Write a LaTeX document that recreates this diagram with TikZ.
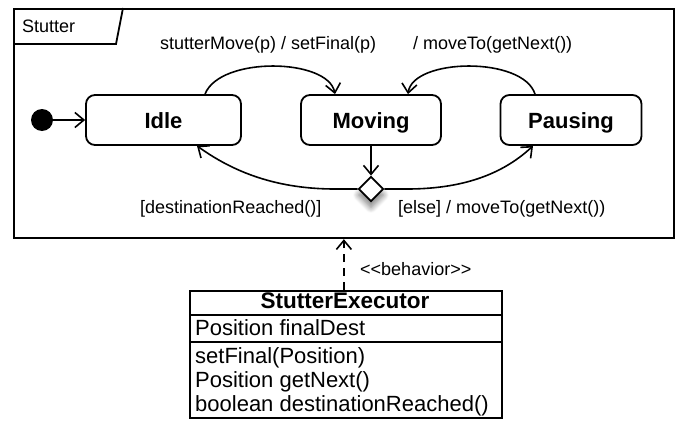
\documentclass[tikz,border=0pt]{standalone}
\usepackage{fontspec}
\setmainfont{Liberation Sans}
\usetikzlibrary{arrows.meta,shadows.blur,shapes.geometric}
\begin{document}
\begin{tikzpicture}[x=1pt,y=-1pt,
  lbl/.style={font=\fontsize{18}{22}\selectfont, inner sep=0pt},
  cltxt/.style={font=\fontsize{22}{26}\selectfont, inner sep=0pt, anchor=base west},
  state/.style={draw, line width=1.8pt, rounded corners=9pt, minimum height=50pt,
    font=\fontsize{22}{26}\selectfont\bfseries, inner sep=0pt, text height=16pt, text depth=0pt},
  tip/.style={-{Straight Barb[length=9pt,width=15pt,line width=1.6pt]}},
  arr/.style={line width=1.6pt, tip},
  lnk/.style={line width=1.6pt}
]
\useasboundingbox (0,0) rectangle (676,420);
% frame
\node[draw, line width=2.2pt, minimum width=660pt, minimum height=229pt, anchor=north west, inner sep=0pt] (frame) at (13,8) {};
\draw[line width=1.8pt] (13,44) -- (116,44) -- (123,8);
\node[lbl, anchor=base west] (ftitle) at (22,33) {Stutter};
% states
\node[circle, fill, minimum size=22pt, inner sep=0pt] (init) at (42,120) {};
\node[state, minimum width=155pt] (idle) at (163.5,120) {Idle};
\node[state, minimum width=140pt] (moving) at (371,120) {Moving};
\node[state, minimum width=141pt] (pausing) at (571,120) {Pausing};
\node[diamond, draw, fill=white, line width=1.8pt, minimum width=25pt, minimum height=25pt, inner sep=0pt,
  blur shadow={shadow xshift=0pt, shadow yshift=-6pt, shadow blur steps=14, shadow blur radius=6pt, shadow opacity=55}] (dia) at (371,189) {};
% transitions
\draw[arr] (init) -- (idle);
\draw[arr] ([xshift=41.5pt]idle.north) .. controls (220,56) and (328,58) .. ([xshift=-36pt]moving.north);
\draw[arr] ([xshift=-36pt]pausing.north) .. controls (523,56) and (413,58) .. ([xshift=37pt]moving.north);
\draw[arr] (moving) -- (dia);
\draw[arr] (dia.west) -- (335,189) .. controls (270,189) and (228,168) .. ([xshift=33.5pt]idle.south);
\draw[arr] (dia.east) -- (407,189) .. controls (470,189) and (507,170) .. ([xshift=-38pt]pausing.south);
% labels
\node[lbl, anchor=base west] (l1) at (160,49) {stutterMove(p) / setFinal(p)};
\node[lbl, anchor=base west] (l2) at (413,49) {/ moveTo(getNext())};
\node[lbl, anchor=base west] (l3) at (140,213) {[destinationReached()]};
\node[lbl, anchor=base west] (l4) at (398,213) {[else] / moveTo(getNext())};
% class
\node[draw, line width=1.8pt, minimum width=312pt, minimum height=127pt, anchor=north west, inner sep=0pt] (cls) at (189,290) {};
\draw[line width=1.6pt] (189,315) -- (501,315);
\draw[line width=1.6pt] (189,342) -- (501,342);
\node[font=\fontsize{22.5}{26}\selectfont\bfseries, inner sep=0pt, anchor=base] (cname) at (345,308.5) {StutterExecutor};
\node[cltxt] (a1) at (195,335) {Position finalDest};
\node[cltxt] (m1) at (195,363) {setFinal(Position)};
\node[cltxt] (m2) at (195,387) {Position getNext()};
\node[cltxt] (m3) at (195,411) {boolean destinationReached()};
% realization
\draw[lnk, dash pattern=on 8pt off 6pt, tip] ([xshift=-2pt]cls.north) -- ([xshift=-2pt]cls.north |- frame.south);
\node[lbl, anchor=base west] (st) at (360,275) {<{}<behavior>{}>};
\end{tikzpicture}
\end{document}
